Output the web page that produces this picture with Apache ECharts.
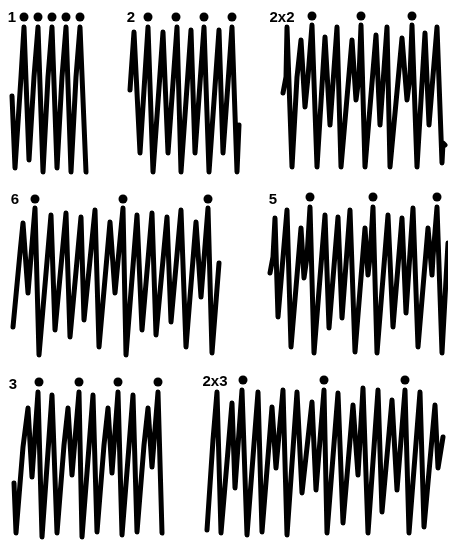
<!DOCTYPE html>
<html>
<head>
<meta charset="utf-8">
<script src="https://cdn.jsdelivr.net/npm/echarts@6/dist/echarts.min.js"></script>
<style>
  html, body { margin: 0; padding: 0; background: #fff; }
  #chart { width: 449px; height: 542px; }
</style>
</head>
<body>
<div id="chart"></div>
<script>
/* 七段心律描记：每段为 [时间, 幅度] 折线，圆点标在对应的波峰上方 */

var LABELS = ['1', '2', '2x2', '6', '5', '3', '2x3'];

var TRACE_1 = [[2,80],[5,8],[11,99],[14,149],[19,16],[24,99],[28,149],[33,4],[38,99],[42,149],[47,8],[52,99],[56,149],[61,4],[66,99],[70,149],[76,4]];
var DOTS_1 = [14, 28, 42, 56, 70];
var DOT_LEVEL_1 = 159;

var TRACE_2 = [[5,86],[6,101],[9,144],[15,23],[23,149],[28,4],[38,144],[43,23],[52,149],[56,4],[66,146],[70,23],[79,149],[84,4],[94,146],[98,23],[107,149],[112,4],[114,51]];
var DOTS_2 = [23, 51, 79, 107];
var DOT_LEVEL_2 = 159;

var TRACE_3 = [[3,83],[6,99],[7,149],[12,9],[17,99],[21,136],[25,69],[28,99],[32,151],[37,9],[45,139],[50,51],[57,149],[61,9],[72,136],[76,76],[79,99],[81,151],[85,9],[96,141],[100,51],[107,149],[110,9],[122,138],[127,76],[130,99],[132,151],[137,9],[145,143],[149,51],[157,149],[162,13],[163,33],[165,31]];
var DOTS_3 = [32, 81, 132];
var DOT_LEVEL_3 = 160;

var TRACE_4 = [[3,31],[10,105],[13,135],[18,65],[25,150],[29,3],[41,143],[45,28],[56,145],[60,21],[71,141],[74,38],[85,148],[89,11],[100,136],[105,65],[113,150],[116,3],[127,143],[132,28],[142,145],[146,23],[157,141],[161,36],[171,148],[176,11],[186,136],[191,61],[198,150],[202,5],[209,95]];
var DOTS_4 = [25, 113, 198];
var DOT_LEVEL_4 = 159;

var TRACE_5 = [[5,85],[8,101],[10,140],[13,41],[22,148],[26,11],[36,130],[39,80],[42,101],[45,151],[49,5],[60,143],[64,30],[73,141],[77,40],[85,148],[90,6],[100,130],[103,83],[105,101],[108,151],[112,5],[123,143],[128,31],[137,140],[141,45],[148,150],[153,11],[163,130],[167,83],[168,101],[172,151],[177,5],[183,115]];
var DOTS_5 = [45, 108, 172];
var DOT_LEVEL_5 = 161;

var TRACE_6 = [[4,57],[6,7],[13,93],[18,132],[22,63],[28,148],[32,3],[42,145],[47,7],[54,95],[58,132],[62,65],[69,148],[72,3],[83,145],[87,8],[94,95],[98,132],[102,67],[108,148],[112,5],[123,145],[127,8],[134,95],[138,132],[142,73],[148,148],[152,7]];
var DOTS_6 = [29, 69, 108, 148];
var DOT_LEVEL_6 = 158;

var TRACE_7 = [[7,10],[13,100],[17,148],[21,7],[32,137],[35,52],[42,150],[47,5],[58,148],[62,8],[72,133],[76,72],[83,150],[87,5],[97,148],[102,47],[112,138],[116,50],[124,150],[127,7],[138,147],[143,17],[153,135],[158,65],[163,152],[168,7],[178,150],[182,28],[192,140],[197,50],[205,150],[209,7],[220,148],[224,13],[235,135],[238,72],[243,103]];
var DOTS_7 = [43, 124, 205];
var DOT_LEVEL_7 = 160;

var TRACES = [TRACE_1, TRACE_2, TRACE_3, TRACE_4, TRACE_5, TRACE_6, TRACE_7];
var DOTS = [DOTS_1, DOTS_2, DOTS_3, DOTS_4, DOTS_5, DOTS_6, DOTS_7];
var DOT_LEVELS = [DOT_LEVEL_1, DOT_LEVEL_2, DOT_LEVEL_3, DOT_LEVEL_4, DOT_LEVEL_5, DOT_LEVEL_6, DOT_LEVEL_7];

/* 版面：每段一个 grid（像素） */
var BOXES = [
    { left: 10,  top: 10,  width: 80,  height: 166 },
    { left: 125, top: 10,  width: 120, height: 166 },
    { left: 280, top: 10,  width: 165, height: 166 },
    { left: 10,  top: 190, width: 215, height: 168 },
    { left: 265, top: 190, width: 180, height: 168 },
    { left: 10,  top: 370, width: 165, height: 170 },
    { left: 200, top: 370, width: 245, height: 170 }
];
var LABEL_POS = [[12,18],[131,18],[282,18],[15,200],[273,200],[13,385],[215,382]];

var INK = '#000';

var grids = [], xAxes = [], yAxes = [], series = [], texts = [];

for (var i = 0; i < TRACES.length; i++) {
    var b = BOXES[i];
    grids.push({ left: b.left, top: b.top, width: b.width, height: b.height });
    xAxes.push({ type: 'value', gridIndex: i, min: 0, max: b.width, show: false });
    yAxes.push({ type: 'value', gridIndex: i, min: 0, max: b.height, show: false });

    series.push({
        type: 'line',
        xAxisIndex: i,
        yAxisIndex: i,
        data: TRACES[i],
        showSymbol: false,
        clip: false,
        silent: true,
        lineStyle: { color: INK, width: 5, join: 'round', cap: 'round', opacity: 1 }
    });

    var dotData = [];
    for (var k = 0; k < DOTS[i].length; k++) {
        dotData.push([DOTS[i][k], DOT_LEVELS[i]]);
    }
    series.push({
        type: 'scatter',
        xAxisIndex: i,
        yAxisIndex: i,
        data: dotData,
        symbol: 'circle',
        symbolSize: 9,
        clip: false,
        silent: true,
        itemStyle: { color: INK, opacity: 1 }
    });

    texts.push({
        type: 'text',
        x: LABEL_POS[i][0],
        y: LABEL_POS[i][1],
        style: {
            text: LABELS[i],
            fill: INK,
            font: 'bold 15px "Liberation Sans", Arial, sans-serif',
            textAlign: 'center',
            textVerticalAlign: 'middle'
        }
    });
}

var option = {
    animation: false,
    backgroundColor: '#fff',
    grid: grids,
    xAxis: xAxes,
    yAxis: yAxes,
    series: series,
    graphic: texts
};

var chart = echarts.init(document.getElementById('chart'));
chart.setOption(option);
</script>
</body>
</html>
